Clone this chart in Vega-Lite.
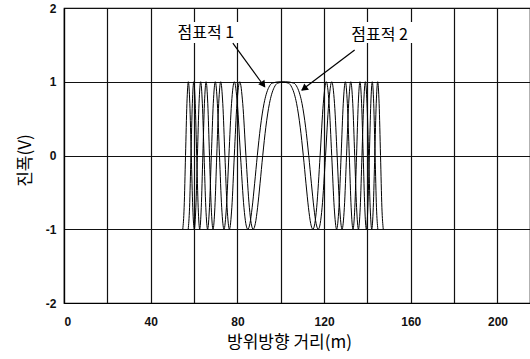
{
  "$schema": "https://vega.github.io/schema/vega-lite/v6.json",
  "width": 466,
  "height": 295,
  "autosize": "none",
  "padding": {"left": 64, "top": 8, "right": 0, "bottom": 56},
  "background": "white",
  "config": {
    "view": {"stroke": "black", "strokeWidth": 1.2},
    "axis": {
      "domainColor": "black", "domainWidth": 1.2,
      "gridColor": "#111", "gridOpacity": 1, "gridWidth": 1.2,
      "ticks": false,
      "labelFont": "Liberation Sans", "labelFontSize": 12, "labelFontWeight": "bold", "labelColor": "#111",
      "titleFont": "Noto Sans CJK KR", "titleFontSize": 17, "titleFontWeight": "normal", "titleColor": "black"
    }
  },
  "datasets": {
    "sig": [
      {"s":1,"x":54.8,"y":-1},{"s":1,"x":55.429,"y":-0.707},{"s":1,"x":56.068,"y":0},{"s":1,"x":56.716,"y":0.707},{"s":1,"x":57.374,"y":1},{"s":1,"x":58.042,"y":0.707},{"s":1,"x":58.721,"y":0},{"s":1,"x":59.411,"y":-0.707},{"s":1,"x":60.114,"y":-1},{"s":1,"x":60.829,"y":-0.707},{"s":1,"x":61.557,"y":0},{"s":1,"x":62.3,"y":0.707},{"s":1,"x":63.058,"y":1},{"s":1,"x":63.83,"y":0.707},{"s":1,"x":64.622,"y":0},{"s":1,"x":65.431,"y":-0.707},{"s":1,"x":66.259,"y":-1},{"s":1,"x":67.108,"y":-0.707},{"s":1,"x":67.98,"y":0},{"s":1,"x":68.877,"y":0.707},{"s":1,"x":69.8,"y":1},{"s":1,"x":70.753,"y":0.707},{"s":1,"x":71.738,"y":0},{"s":1,"x":72.758,"y":-0.707},{"s":1,"x":73.819,"y":-1},{"s":1,"x":74.925,"y":-0.707},{"s":1,"x":76.083,"y":0},{"s":1,"x":77.3,"y":0.707},{"s":1,"x":78.587,"y":1},{"s":1,"x":79.957,"y":0.707},{"s":1,"x":81.429,"y":0},{"s":1,"x":83.029,"y":-0.707},{"s":1,"x":83.89,"y":-0.924},{"s":1,"x":84.8,"y":-1},{"s":1,"x":85.769,"y":-0.924},{"s":1,"x":86.81,"y":-0.707},{"s":1,"x":87.941,"y":-0.383},{"s":1,"x":89.193,"y":0},{"s":1,"x":90.614,"y":0.383},{"s":1,"x":92.3,"y":0.707},{"s":1,"x":93.305,"y":0.831},{"s":1,"x":94.497,"y":0.924},{"s":1,"x":96.05,"y":0.981},
      {"s":1,"x":99.8,"y":1},
      {"s":1,"x":103.55,"y":0.981},{"s":1,"x":105.103,"y":0.924},{"s":1,"x":106.295,"y":0.831},{"s":1,"x":107.3,"y":0.707},{"s":1,"x":108.986,"y":0.383},{"s":1,"x":110.407,"y":0},{"s":1,"x":111.659,"y":-0.383},{"s":1,"x":112.79,"y":-0.707},{"s":1,"x":113.831,"y":-0.924},{"s":1,"x":114.8,"y":-1},{"s":1,"x":115.71,"y":-0.924},{"s":1,"x":116.571,"y":-0.707},{"s":1,"x":118.171,"y":0},{"s":1,"x":119.643,"y":0.707},{"s":1,"x":121.013,"y":1},{"s":1,"x":122.3,"y":0.707},{"s":1,"x":123.517,"y":0},{"s":1,"x":124.675,"y":-0.707},{"s":1,"x":125.781,"y":-1},{"s":1,"x":126.842,"y":-0.707},{"s":1,"x":127.862,"y":0},{"s":1,"x":128.847,"y":0.707},{"s":1,"x":129.8,"y":1},{"s":1,"x":130.723,"y":0.707},{"s":1,"x":131.62,"y":0},{"s":1,"x":132.492,"y":-0.707},{"s":1,"x":133.341,"y":-1},{"s":1,"x":134.169,"y":-0.707},{"s":1,"x":134.978,"y":0},{"s":1,"x":135.77,"y":0.707},{"s":1,"x":136.542,"y":1},{"s":1,"x":137.3,"y":0.707},{"s":1,"x":138.043,"y":0},{"s":1,"x":138.771,"y":-0.707},{"s":1,"x":139.486,"y":-1},{"s":1,"x":140.189,"y":-0.707},{"s":1,"x":140.879,"y":0},{"s":1,"x":141.558,"y":0.707},{"s":1,"x":142.226,"y":1},{"s":1,"x":142.884,"y":0.707},{"s":1,"x":143.532,"y":0},{"s":1,"x":144.171,"y":-0.707},{"s":1,"x":144.8,"y":-1},
      {"s":2,"x":57.3,"y":-1},{"s":2,"x":57.929,"y":-0.707},{"s":2,"x":58.568,"y":0},{"s":2,"x":59.216,"y":0.707},{"s":2,"x":59.874,"y":1},{"s":2,"x":60.542,"y":0.707},{"s":2,"x":61.221,"y":0},{"s":2,"x":61.911,"y":-0.707},{"s":2,"x":62.614,"y":-1},{"s":2,"x":63.329,"y":-0.707},{"s":2,"x":64.057,"y":0},{"s":2,"x":64.8,"y":0.707},{"s":2,"x":65.558,"y":1},{"s":2,"x":66.33,"y":0.707},{"s":2,"x":67.122,"y":0},{"s":2,"x":67.931,"y":-0.707},{"s":2,"x":68.759,"y":-1},{"s":2,"x":69.608,"y":-0.707},{"s":2,"x":70.48,"y":0},{"s":2,"x":71.377,"y":0.707},{"s":2,"x":72.3,"y":1},{"s":2,"x":73.253,"y":0.707},{"s":2,"x":74.238,"y":0},{"s":2,"x":75.258,"y":-0.707},{"s":2,"x":76.319,"y":-1},{"s":2,"x":77.425,"y":-0.707},{"s":2,"x":78.583,"y":0},{"s":2,"x":79.8,"y":0.707},{"s":2,"x":81.087,"y":1},{"s":2,"x":82.457,"y":0.707},{"s":2,"x":83.929,"y":0},{"s":2,"x":85.529,"y":-0.707},{"s":2,"x":86.39,"y":-0.924},{"s":2,"x":87.3,"y":-1},{"s":2,"x":88.269,"y":-0.924},{"s":2,"x":89.31,"y":-0.707},{"s":2,"x":90.441,"y":-0.383},{"s":2,"x":91.693,"y":0},{"s":2,"x":93.114,"y":0.383},{"s":2,"x":94.8,"y":0.707},{"s":2,"x":95.805,"y":0.831},{"s":2,"x":96.997,"y":0.924},{"s":2,"x":98.55,"y":0.981},
      {"s":2,"x":102.3,"y":1},
      {"s":2,"x":106.05,"y":0.981},{"s":2,"x":107.603,"y":0.924},{"s":2,"x":108.795,"y":0.831},{"s":2,"x":109.8,"y":0.707},{"s":2,"x":111.486,"y":0.383},{"s":2,"x":112.907,"y":0},{"s":2,"x":114.159,"y":-0.383},{"s":2,"x":115.29,"y":-0.707},{"s":2,"x":116.331,"y":-0.924},{"s":2,"x":117.3,"y":-1},{"s":2,"x":118.21,"y":-0.924},{"s":2,"x":119.071,"y":-0.707},{"s":2,"x":120.671,"y":0},{"s":2,"x":122.143,"y":0.707},{"s":2,"x":123.513,"y":1},{"s":2,"x":124.8,"y":0.707},{"s":2,"x":126.017,"y":0},{"s":2,"x":127.175,"y":-0.707},{"s":2,"x":128.281,"y":-1},{"s":2,"x":129.342,"y":-0.707},{"s":2,"x":130.362,"y":0},{"s":2,"x":131.347,"y":0.707},{"s":2,"x":132.3,"y":1},{"s":2,"x":133.223,"y":0.707},{"s":2,"x":134.12,"y":0},{"s":2,"x":134.992,"y":-0.707},{"s":2,"x":135.841,"y":-1},{"s":2,"x":136.669,"y":-0.707},{"s":2,"x":137.478,"y":0},{"s":2,"x":138.27,"y":0.707},{"s":2,"x":139.042,"y":1},{"s":2,"x":139.8,"y":0.707},{"s":2,"x":140.543,"y":0},{"s":2,"x":141.271,"y":-0.707},{"s":2,"x":141.986,"y":-1},{"s":2,"x":142.689,"y":-0.707},{"s":2,"x":143.379,"y":0},{"s":2,"x":144.058,"y":0.707},{"s":2,"x":144.726,"y":1},{"s":2,"x":145.384,"y":0.707},{"s":2,"x":146.032,"y":0},{"s":2,"x":146.671,"y":-0.707},{"s":2,"x":147.3,"y":-1}
    ],
    "notes": [
      {"t":"점표적 1","x":65.4,"y":1.66,"bx":46.5,"bx2":84.3,"by":1.81,"by2":1.525,"ax":77.9,"ay":1.525,"ax2":92.6,"ay2":0.929,"hx":91.97,"hy":0.959},
      {"t":"점표적 2","x":145.6,"y":1.64,"bx":126.3,"bx2":165.4,"by":1.81,"by2":1.525,"ax":134.1,"ay":1.43,"ax2":109.7,"ay2":0.888,"hx":110.7,"hy":0.907}
    ]
  },
  "layer": [
    {
      "data": {"name": "notes"},
      "mark": {"type": "rect", "fill": "white", "stroke": null},
      "encoding": {
        "x": {"field": "bx", "type": "quantitative", "scale": {"domain": [0, 215], "nice": false, "zero": false},
          "axis": {"values": [0,20,40,60,80,100,120,140,160,180,200], "labelExpr": "datum.value % 40 == 0 ? '' + datum.value : ''", "labelPadding": 13, "title": "방위방향 거리(m)", "titleX": 225, "titleY": 44, "titleBaseline": "alphabetic", "titleAlign": "center"}},
        "x2": {"field": "bx2"},
        "y": {"field": "by", "type": "quantitative", "scale": {"domain": [-2, 2], "nice": false, "zero": false},
          "axis": {"values": [-2,-1.5,-1,-0.5,0,0.5,1,1.5,2], "labelExpr": "datum.value % 1 == 0 ? '' + datum.value : ''", "labelPadding": 8, "title": "진폭(V)", "titleX": -39, "titleY": 152, "titleBaseline": "middle", "titleAlign": "center", "titleAngle": -90}},
        "y2": {"field": "by2"}
      }
    },
    {
      "data": {"name": "sig"},
      "mark": {"type": "line", "color": "black", "strokeWidth": 1, "interpolate": "monotone"},
      "encoding": {
        "x": {"field": "x", "type": "quantitative"},
        "y": {"field": "y", "type": "quantitative"},
        "detail": {"field": "s"}
      }
    },
    {
      "data": {"name": "notes"},
      "mark": {"type": "rule", "color": "black", "strokeWidth": 1.2},
      "encoding": {
        "x": {"field": "ax", "type": "quantitative"},
        "y": {"field": "ay", "type": "quantitative"},
        "x2": {"field": "ax2"},
        "y2": {"field": "ay2"}
      }
    },
    {
      "data": {"name": "notes"},
      "transform": [{"filter": "datum.t == '점표적 1'"}],
      "mark": {"type": "point", "shape": "triangle-right", "filled": true, "color": "black", "size": 60, "angle": 54, "opacity": 1},
      "encoding": {
        "x": {"field": "hx", "type": "quantitative"},
        "y": {"field": "hy", "type": "quantitative"}
      }
    },
    {
      "data": {"name": "notes"},
      "transform": [{"filter": "datum.t == '점표적 2'"}],
      "mark": {"type": "point", "shape": "triangle-right", "filled": true, "color": "black", "size": 60, "angle": 143, "opacity": 1},
      "encoding": {
        "x": {"field": "hx", "type": "quantitative"},
        "y": {"field": "hy", "type": "quantitative"}
      }
    },
    {
      "data": {"name": "notes"},
      "mark": {"type": "text", "font": "Noto Sans CJK KR", "fontSize": 16, "color": "black", "align": "center", "baseline": "middle"},
      "encoding": {
        "x": {"field": "x", "type": "quantitative"},
        "y": {"field": "y", "type": "quantitative"},
        "text": {"field": "t"}
      }
    }
  ]
}
